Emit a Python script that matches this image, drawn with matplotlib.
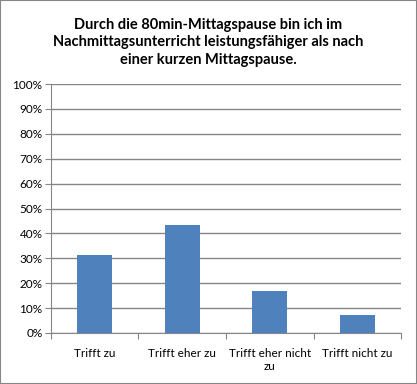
import matplotlib.pyplot as plt
from matplotlib.patches import Rectangle

categories = ['Trifft zu', 'Trifft eher zu', 'Trifft eher nicht\nzu', 'Trifft nicht zu']
values = [31.5, 43.5, 17.0, 7.3]
y_ticks = [0, 10, 20, 30, 40, 50, 60, 70, 80, 90, 100]
title = 'Durch die 80min-Mittagspause bin ich im\nNachmittagsunterricht leistungsfähiger als nach\neiner kurzen Mittagspause.'

plt.rcParams['font.family'] = ['Lato', 'DejaVu Sans']
grey = '#868686'

fig = plt.figure(figsize=(4.17, 3.84), dpi=100)
fig.patches.append(Rectangle((0, 0), 1, 1, transform=fig.transFigure,
                             fill=False, edgecolor=grey, linewidth=1.5))
ax = fig.add_axes([0.122, 0.133, 0.84, 0.648])

x = list(range(len(categories)))
ax.bar(x, values, width=0.4, color='#4F81BD', zorder=3)

ax.set_xlim(-0.5, len(categories) - 0.5)
ax.set_ylim(0, 100)
ax.set_yticks(y_ticks)
ax.set_yticklabels([f'{t}%' for t in y_ticks], fontsize=8.5)
ax.grid(axis='y', color=grey, linewidth=1, zorder=0)

ax.set_xticks([i + 0.5 for i in range(-1, len(categories))], minor=False)
ax.set_xticklabels([])
ax.set_xticks(x, minor=True)
ax.set_xticklabels(categories, minor=True, fontsize=8.5, linespacing=1.25)
ax.tick_params(axis='x', which='minor', length=0, pad=11)
ax.tick_params(axis='x', which='major', length=4, color=grey)
ax.tick_params(axis='y', length=4, color=grey, pad=2)

for s in ['top', 'right']:
    ax.spines[s].set_visible(False)
for s in ['left', 'bottom']:
    ax.spines[s].set_color(grey)

fig.text(0.5, 0.89, title, ha='center', va='center', fontsize=10.5,
         fontweight='bold', linespacing=1.3)

fig.savefig('out.png', dpi=100)
